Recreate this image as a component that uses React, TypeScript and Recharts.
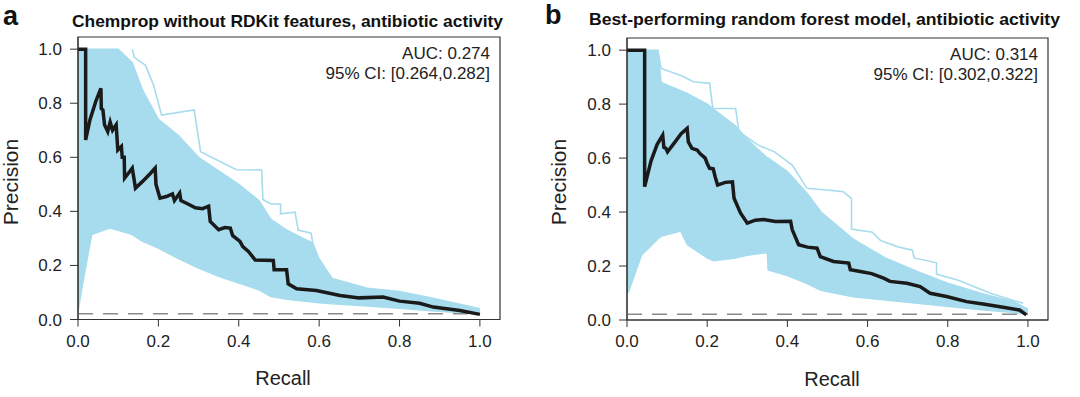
import React from 'react';
import { ComposedChart, Line, Area, XAxis, YAxis, ReferenceArea } from 'recharts';

// [recall, precision] pairs
const chempropMain: [number, number][] = [
  [0, 1], [0.019, 1], [0.019, 0.664], [0.03, 0.74], [0.045, 0.81], [0.057, 0.855], [0.058, 0.78],
  [0.062, 0.775], [0.066, 0.72], [0.074, 0.695], [0.08, 0.73], [0.086, 0.7], [0.095, 0.72],
  [0.099, 0.627], [0.108, 0.64], [0.11, 0.6], [0.115, 0.6], [0.116, 0.523], [0.125, 0.54],
  [0.135, 0.56], [0.143, 0.486], [0.16, 0.51], [0.18, 0.54], [0.192, 0.56], [0.194, 0.5],
  [0.204, 0.449], [0.22, 0.455], [0.235, 0.465], [0.24, 0.44], [0.253, 0.468], [0.256, 0.44],
  [0.27, 0.43], [0.292, 0.413], [0.31, 0.41], [0.325, 0.419], [0.329, 0.363], [0.35, 0.332],
  [0.365, 0.34], [0.379, 0.338], [0.385, 0.31], [0.403, 0.289], [0.41, 0.27], [0.424, 0.252],
  [0.441, 0.22], [0.486, 0.218], [0.488, 0.184], [0.519, 0.184], [0.523, 0.132], [0.544, 0.114],
  [0.593, 0.107], [0.652, 0.089], [0.7, 0.08], [0.759, 0.083], [0.8, 0.068], [0.85, 0.06],
  [0.884, 0.046], [0.95, 0.033], [1.0, 0.019],
];

// [recall, low, high] of the bootstrap cloud
const chempropBand: [number, number, number][] = [
  [0, 0.03, 1], [0.01, 0.12, 1], [0.034, 0.314, 1], [0.079, 0.338, 1], [0.1, 0.33, 1],
  [0.135, 0.314, 0.95], [0.16, 0.29, 0.85], [0.2, 0.264, 0.74], [0.25, 0.225, 0.68],
  [0.3, 0.19, 0.6], [0.35, 0.16, 0.55], [0.4, 0.135, 0.5], [0.45, 0.11, 0.44],
  [0.48, 0.085, 0.37], [0.52, 0.075, 0.33], [0.56, 0.068, 0.3], [0.584, 0.065, 0.283],
  [0.6, 0.062, 0.224], [0.632, 0.058, 0.152], [0.72, 0.05, 0.116], [0.8, 0.042, 0.104],
  [0.88, 0.032, 0.08], [1.0, 0.02, 0.04],
];

const chempropOutlier: [number, number][] = [
  [0.135, 1], [0.14, 0.97], [0.168, 0.94], [0.188, 0.867], [0.208, 0.756], [0.289, 0.775],
  [0.305, 0.621], [0.394, 0.554], [0.457, 0.553], [0.46, 0.444], [0.48, 0.427], [0.504, 0.427],
  [0.504, 0.391], [0.54, 0.397], [0.548, 0.331], [0.58, 0.319], [0.584, 0.283], [0.6, 0.206],
  [0.632, 0.152],
];

const forestMain: [number, number][] = [
  [0, 1], [0.044, 1], [0.044, 0.494], [0.06, 0.59], [0.075, 0.65], [0.089, 0.685], [0.092, 0.64],
  [0.097, 0.636], [0.101, 0.623], [0.12, 0.66], [0.135, 0.69], [0.15, 0.71], [0.153, 0.66],
  [0.162, 0.636], [0.175, 0.63], [0.182, 0.617], [0.195, 0.6], [0.2, 0.58], [0.206, 0.562],
  [0.215, 0.56], [0.22, 0.53], [0.226, 0.5], [0.245, 0.51], [0.263, 0.512], [0.267, 0.451],
  [0.283, 0.397], [0.3, 0.359], [0.32, 0.37], [0.341, 0.372], [0.37, 0.365], [0.408, 0.366],
  [0.412, 0.335], [0.428, 0.279], [0.45, 0.27], [0.474, 0.266], [0.482, 0.235], [0.515, 0.217],
  [0.553, 0.211], [0.557, 0.186], [0.582, 0.18], [0.61, 0.172], [0.64, 0.155], [0.656, 0.143],
  [0.698, 0.136], [0.731, 0.124], [0.756, 0.099], [0.797, 0.087], [0.847, 0.068], [0.888, 0.059],
  [0.938, 0.047], [0.979, 0.037], [0.996, 0.019],
];

const forestBand: [number, number, number][] = [
  [0, 0.1, 1], [0.004, 0.105, 1], [0.036, 0.24, 1], [0.077, 0.3, 1], [0.085, 0.31, 0.88],
  [0.134, 0.33, 0.85], [0.15, 0.28, 0.84], [0.2, 0.23, 0.8], [0.217, 0.22, 0.78],
  [0.27, 0.23, 0.72], [0.3, 0.24, 0.67], [0.35, 0.25, 0.6], [0.352, 0.186, 0.6],
  [0.4, 0.165, 0.55], [0.449, 0.135, 0.47], [0.484, 0.11, 0.4], [0.564, 0.086, 0.3],
  [0.644, 0.074, 0.23], [0.724, 0.062, 0.18], [0.804, 0.05, 0.134], [0.884, 0.038, 0.098],
  [0.964, 0.028, 0.068], [1.0, 0.02, 0.04],
];

const forestOutlier: [number, number][] = [
  [0.077, 1], [0.085, 0.932], [0.133, 0.907], [0.166, 0.883], [0.206, 0.877], [0.214, 0.784],
  [0.271, 0.784], [0.279, 0.698], [0.327, 0.648], [0.368, 0.623], [0.412, 0.574], [0.449, 0.488],
  [0.505, 0.481], [0.54, 0.475], [0.56, 0.45], [0.56, 0.337], [0.612, 0.325], [0.632, 0.295],
  [0.676, 0.271], [0.712, 0.259], [0.716, 0.23], [0.772, 0.212], [0.772, 0.17], [0.828, 0.146],
  [0.908, 0.098], [0.988, 0.062],
];

const baseline: [number, number][] = [[0, 0.021], [1, 0.021]];

const ticks = [0, 0.2, 0.4, 0.6, 0.8, 1.0];

const BLUE = '#a7dcee';
const INK = '#333';
const FONT = '"Liberation Sans", Arial, Helvetica, sans-serif';

const toRows = (pts: [number, number][]) => pts.map(([r, p]) => ({ r, p }));
const toBand = (pts: [number, number, number][]) => pts.map(([r, lo, hi]) => ({ r, range: [lo, hi] }));

interface PanelProps {
  left: number;
  margin: { top: number; right: number; left: number; bottom: number };
  main: [number, number][];
  band: [number, number, number][];
  outlier: [number, number][];
}

const Panel: React.FC<PanelProps> = ({ left, margin, main, band, outlier }) => (
  <div style={{ position: 'absolute', left, top: 0 }}>
    <ComposedChart width={540} height={397} margin={margin}>
      <XAxis
        type="number"
        dataKey="r"
        domain={[0, 1.05]}
        ticks={ticks}
        allowDataOverflow
        tickFormatter={(v: number) => v.toFixed(1)}
        tickSize={7}
        tickMargin={8}
        height={30}
        stroke={INK}
        tick={{ fill: '#222', fontSize: 17, fontFamily: FONT }}
      />
      <YAxis
        type="number"
        domain={[0, 1.045]}
        ticks={ticks}
        allowDataOverflow
        tickFormatter={(v: number) => v.toFixed(1)}
        tickSize={8}
        tickMargin={8}
        width={60}
        stroke={INK}
        tick={{ fill: '#222', fontSize: 17, fontFamily: FONT }}
      />
      <Area
        data={toBand(band)}
        dataKey="range"
        type="linear"
        fill={BLUE}
        fillOpacity={1}
        stroke={BLUE}
        strokeWidth={1.5}
        isAnimationActive={false}
      />
      <Line
        data={toRows(outlier)}
        dataKey="p"
        type="linear"
        stroke={BLUE}
        strokeWidth={1.6}
        dot={false}
        isAnimationActive={false}
      />
      <Line
        data={toRows(baseline)}
        dataKey="p"
        type="linear"
        stroke="#8a8a8a"
        strokeWidth={1.5}
        strokeDasharray="15 10"
        dot={false}
        isAnimationActive={false}
      />
      <Line
        data={toRows(main)}
        dataKey="p"
        type="linear"
        stroke="#1a1a1a"
        strokeWidth={3.5}
        dot={false}
        isAnimationActive={false}
      />
      <ReferenceArea x1={0} x2={1.05} y1={0} y2={1.045} fill="none" stroke={INK} strokeWidth={1.2} />
    </ComposedChart>
  </div>
);

const App: React.FC = () => {
  return (
    <div style={{ position: 'absolute', left: 0, top: 0, width: 1080, height: 397, background: '#fff' }}>
      <Panel left={0} margin={{ top: 37, right: 40, left: 18, bottom: 47.5 }} main={chempropMain} band={chempropBand} outlier={chempropOutlier} />
      <Panel left={540} margin={{ top: 38, right: 32, left: 27, bottom: 47 }} main={forestMain} band={forestBand} outlier={forestOutlier} />
      <svg width={1080} height={397} style={{ position: 'absolute', left: 0, top: 0, pointerEvents: 'none' }} fontFamily={FONT}>
        <text x={3} y={25} fontSize={27} fontWeight="bold" fill="#111">a</text>
        <text x={72} y={27} fontSize={17} fontWeight="bold" fill="#111" textLength={431} lengthAdjust="spacingAndGlyphs">
          Chemprop without RDKit features, antibiotic activity
        </text>
        <text x={490} y={59} fontSize={17} fill="#222" textAnchor="end">AUC: 0.274</text>
        <text x={490} y={79} fontSize={17} fill="#222" textAnchor="end">95% CI: [0.264,0.282]</text>
        <text x={283} y={385} fontSize={20} fill="#222" textAnchor="middle">Recall</text>
        <text x={18} y={182} fontSize={21} fill="#222" textAnchor="middle" transform="rotate(-90 18 182)">Precision</text>

        <text x={545} y={24} fontSize={27} fontWeight="bold" fill="#111">b</text>
        <text x={589} y={25} fontSize={17} fontWeight="bold" fill="#111" textLength={471} lengthAdjust="spacingAndGlyphs">
          Best-performing random forest model, antibiotic activity
        </text>
        <text x={1038} y={60} fontSize={17} fill="#222" textAnchor="end">AUC: 0.314</text>
        <text x={1038} y={80} fontSize={17} fill="#222" textAnchor="end">95% CI: [0.302,0.322]</text>
        <text x={832} y={386} fontSize={20} fill="#222" textAnchor="middle">Recall</text>
        <text x={566} y={182} fontSize={21} fill="#222" textAnchor="middle" transform="rotate(-90 566 182)">Precision</text>
      </svg>
    </div>
  );
};

export default App;
